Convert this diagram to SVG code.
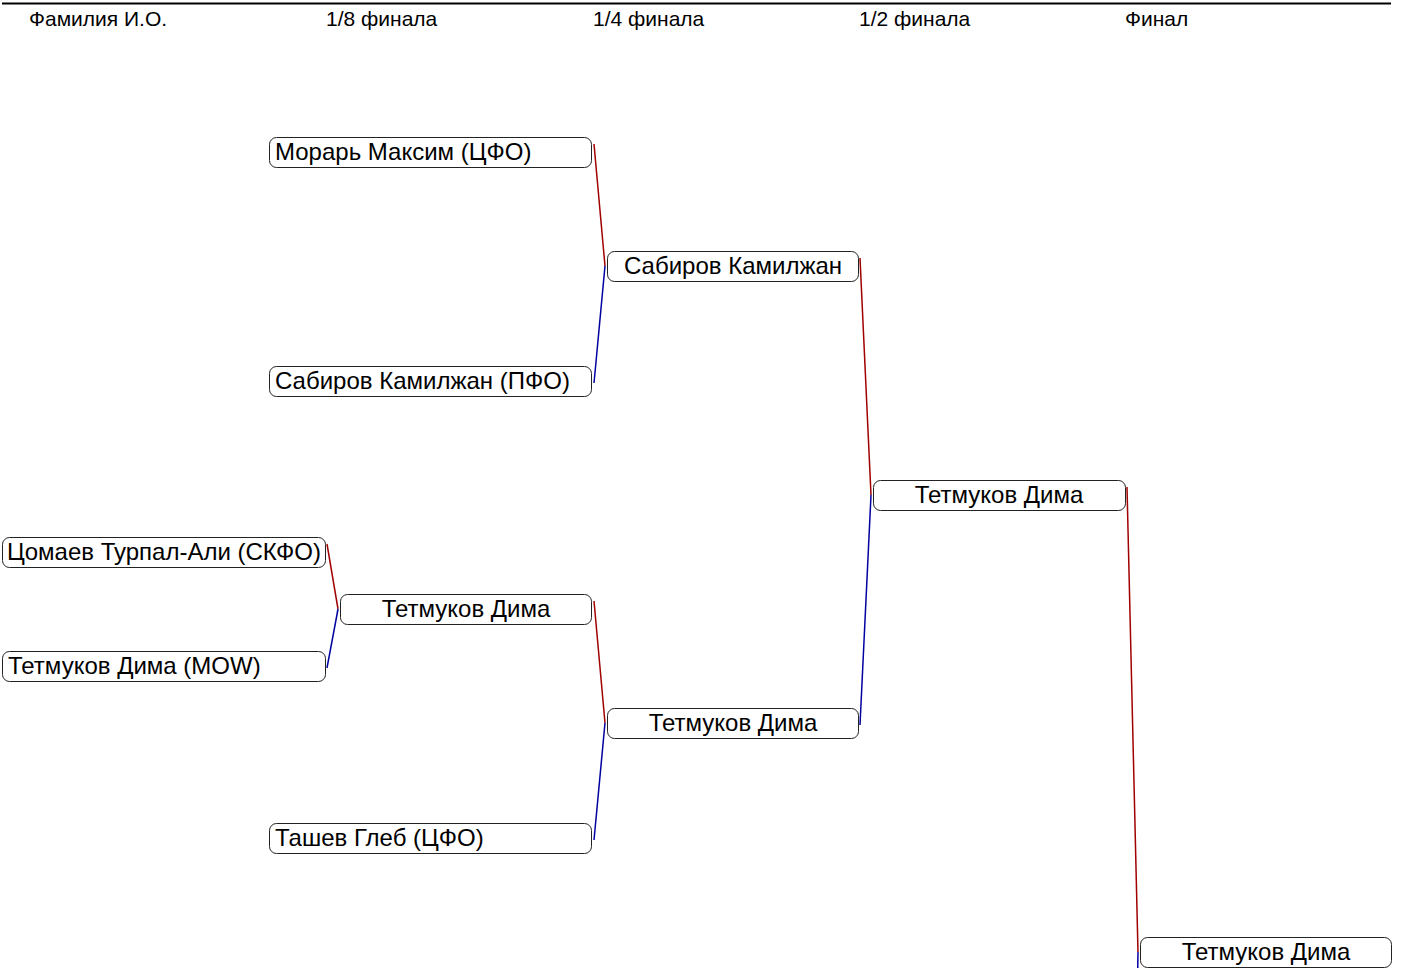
<svg xmlns="http://www.w3.org/2000/svg" width="1403" height="968" viewBox="0 0 1403 968">
<style>
.hdr{font-family:"Liberation Sans",Arial,sans-serif;font-size:21px;fill:#000}
.box{fill:#fff;stroke:#222;stroke-width:1}
.nm{font-family:"Liberation Sans",Arial,sans-serif;font-size:24px;fill:#000}
.c{text-anchor:middle}
.r{stroke:#a00000;stroke-width:1.5;fill:none}
.b{stroke:#0000a0;stroke-width:1.5;fill:none}
</style>
<rect width="1403" height="968" fill="#fff"/>
<g id="header">
<line x1="2" y1="3.5" x2="1391" y2="3.5" stroke="#000" stroke-width="2"/>
<text class="hdr" x="29" y="26">Фамилия И.О.</text>
<text class="hdr" x="326" y="26">1/8 финала</text>
<text class="hdr" x="593" y="26">1/4 финала</text>
<text class="hdr" x="859" y="26">1/2 финала</text>
<text class="hdr" x="1125" y="26">Финал</text>
</g>
<g id="connectors">
<line class="r" x1="594" y1="144" x2="605" y2="266"/>
<line class="b" x1="605" y1="266" x2="594" y2="383"/>
<line class="r" x1="327" y1="544" x2="338" y2="609"/>
<line class="b" x1="338" y1="609" x2="327" y2="668"/>
<line class="r" x1="594" y1="601" x2="605" y2="723"/>
<line class="b" x1="605" y1="723" x2="594" y2="840"/>
<line class="r" x1="860" y1="258" x2="871" y2="495"/>
<line class="b" x1="871" y1="495" x2="860" y2="725"/>
<line class="r" x1="1127" y1="487" x2="1138" y2="952"/>
<line class="b" x1="1138" y1="952" x2="1137.7" y2="970"/>
</g>
<g id="n-morar"><rect class="box" x="269.5" y="137.5" width="322" height="30" rx="7"/><text class="nm" x="275" y="160">Морарь Максим (ЦФО)</text></g>
<g id="n-sabirov-pfo"><rect class="box" x="269.5" y="366.5" width="322" height="30" rx="7"/><text class="nm" x="275" y="389">Сабиров Камилжан (ПФО)</text></g>
<g id="n-tsomaev"><rect class="box" x="2.5" y="537.5" width="323" height="30" rx="7"/><text class="nm" x="7" y="560">Цомаев Турпал-Али (СКФО)</text></g>
<g id="n-tetmukov-mow"><rect class="box" x="2.5" y="651.5" width="323" height="30" rx="7"/><text class="nm" x="8" y="674">Тетмуков Дима (MOW)</text></g>
<g id="n-tashev"><rect class="box" x="269.5" y="823.5" width="322" height="30" rx="7"/><text class="nm" x="275" y="846">Ташев Глеб (ЦФО)</text></g>
<g id="n-r8-tetmukov"><rect class="box" x="340.5" y="594.5" width="251" height="30" rx="7"/><text class="nm c" x="466" y="617">Тетмуков Дима</text></g>
<g id="n-qf-sabirov"><rect class="box" x="607.5" y="251.5" width="251" height="30" rx="7"/><text class="nm c" x="733" y="274">Сабиров Камилжан</text></g>
<g id="n-qf-tetmukov"><rect class="box" x="607.5" y="708.5" width="251" height="30" rx="7"/><text class="nm c" x="733" y="731">Тетмуков Дима</text></g>
<g id="n-sf-tetmukov"><rect class="box" x="873.5" y="480.5" width="252" height="30" rx="7"/><text class="nm c" x="999" y="503">Тетмуков Дима</text></g>
<g id="n-f-tetmukov"><rect class="box" x="1140.5" y="937.5" width="251" height="30" rx="7"/><text class="nm c" x="1266" y="960">Тетмуков Дима</text></g>
</svg>
